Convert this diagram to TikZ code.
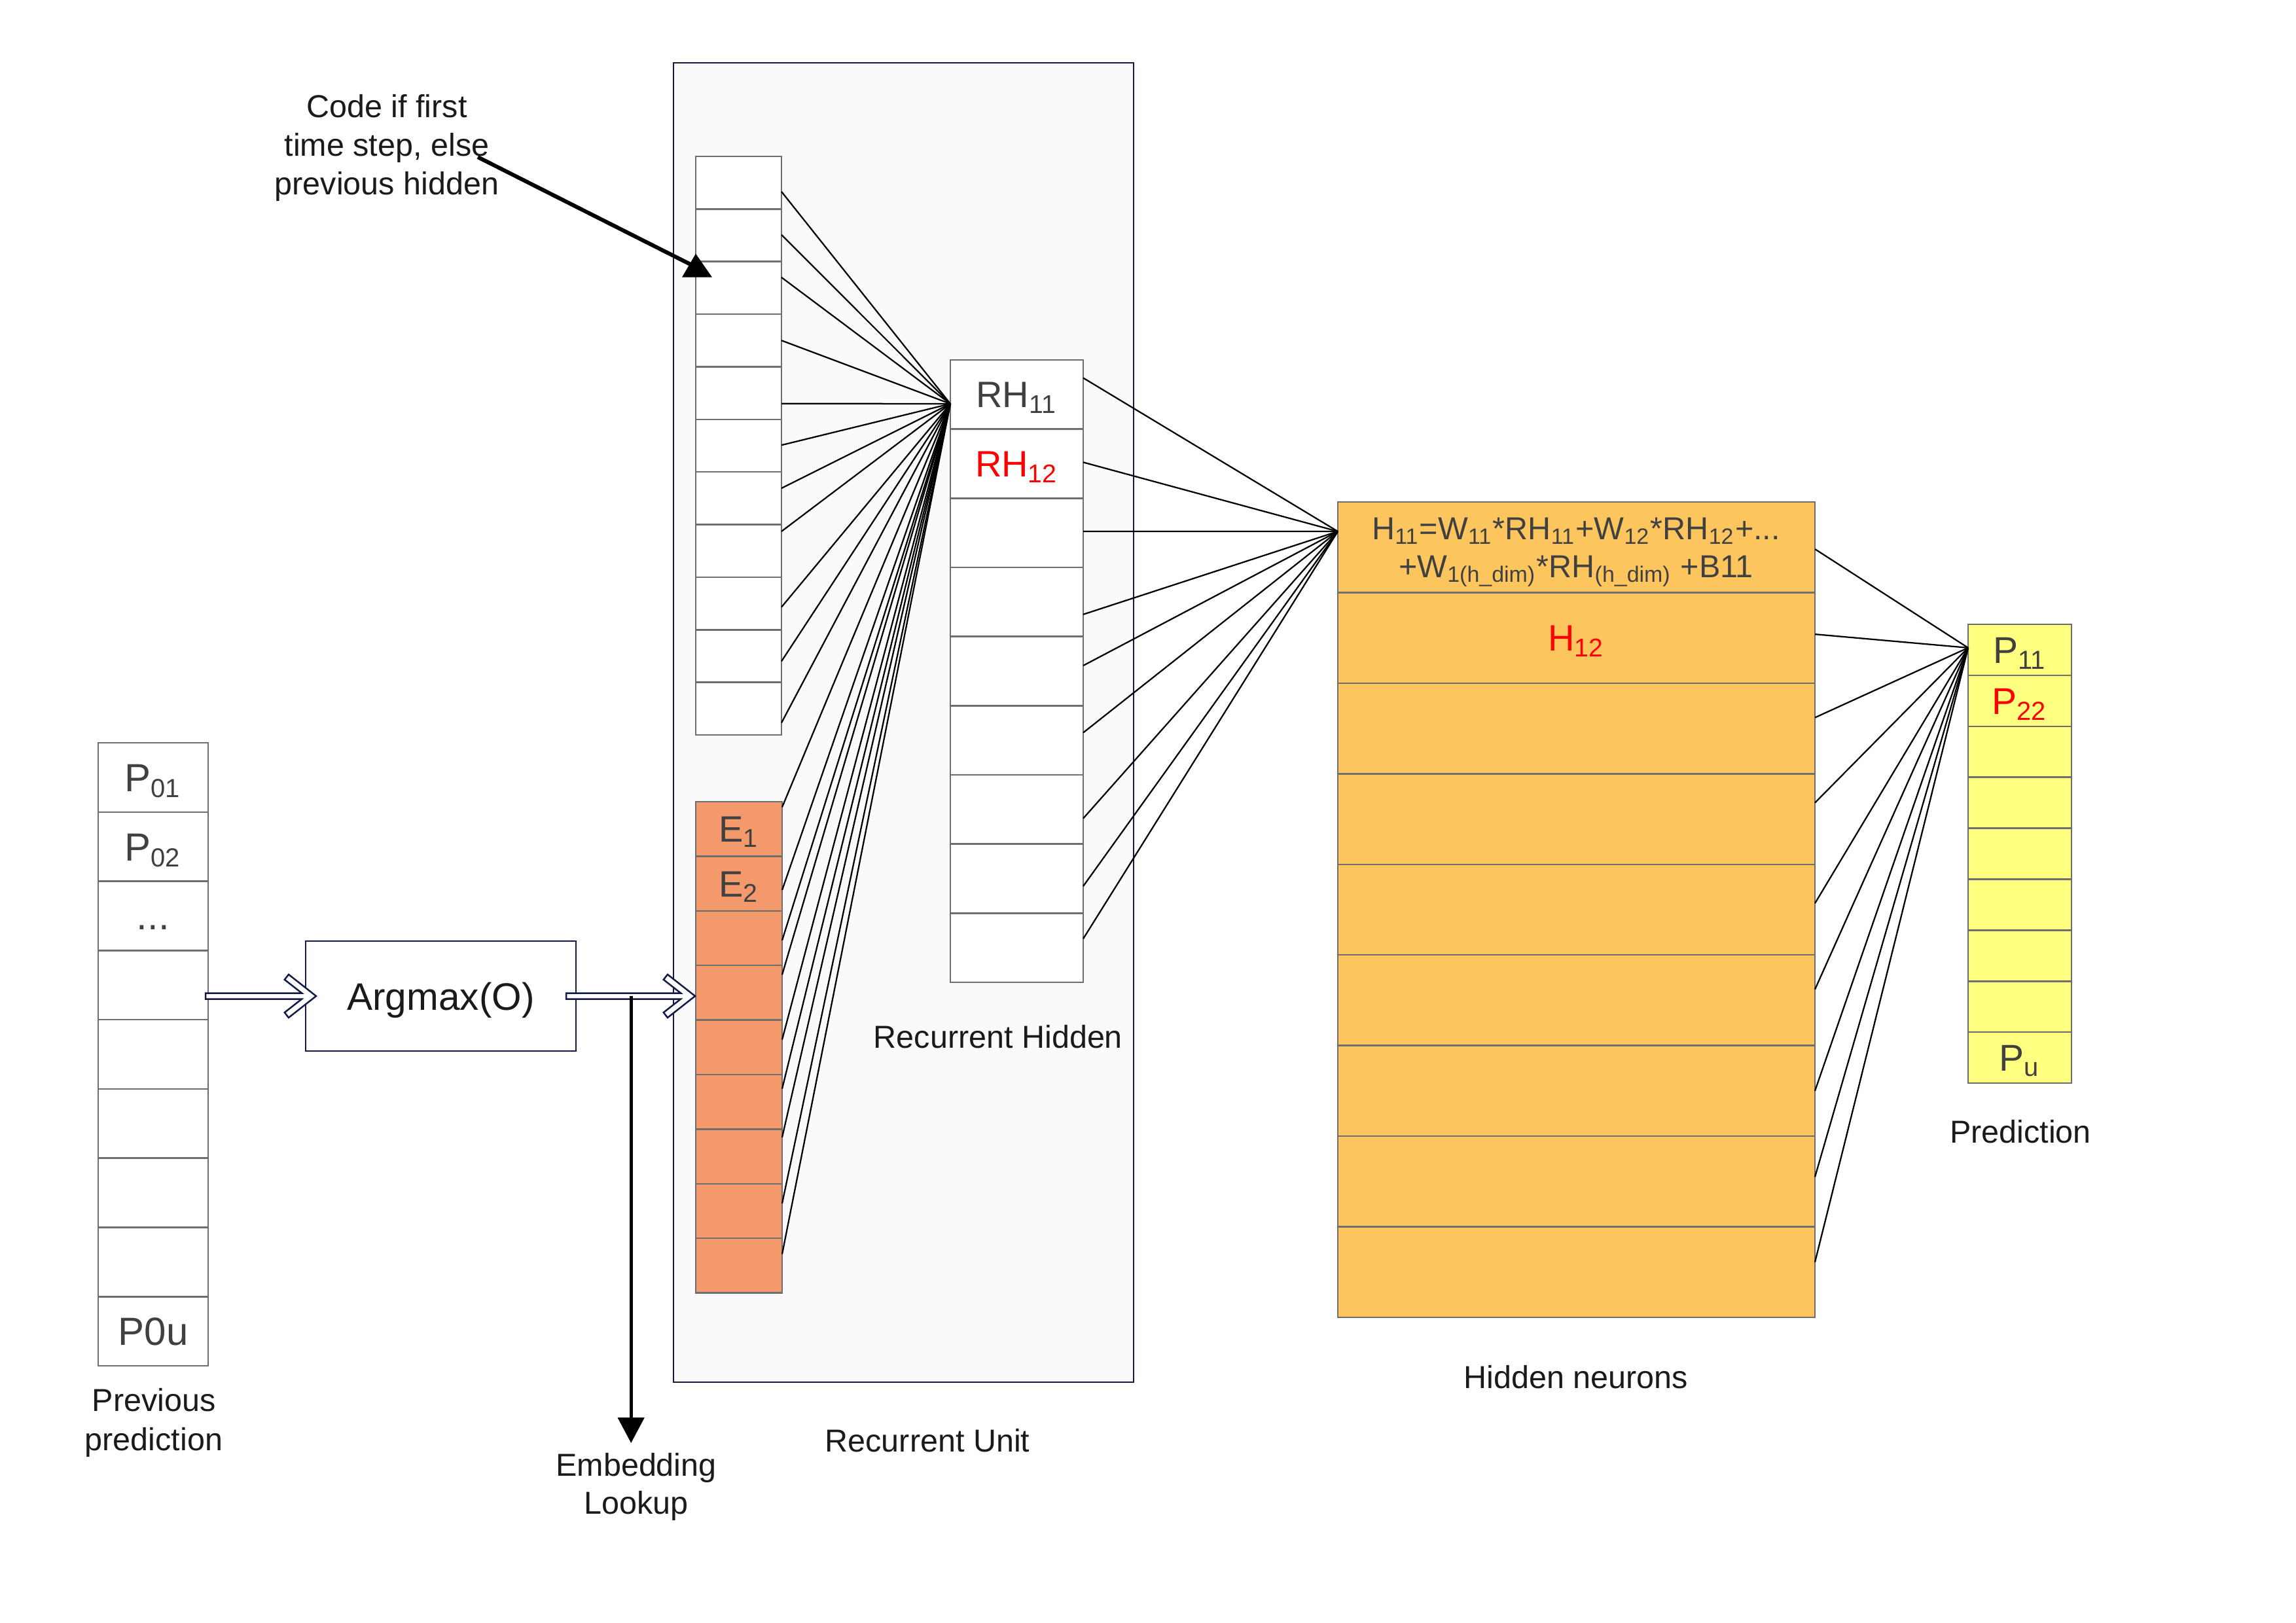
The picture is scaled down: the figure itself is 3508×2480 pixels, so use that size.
\documentclass[tikz,border=0pt]{standalone}
\usepackage{fontspec}
\setmainfont{Liberation Sans}
\usetikzlibrary{calc,arrows.meta}
\definecolor{navy}{RGB}{20,26,70}
\definecolor{boxfill}{RGB}{250,250,250}
\definecolor{cellgray}{RGB}{110,110,110}
\definecolor{embfill}{RGB}{243,153,108}
\definecolor{hidfill}{RGB}{253,197,94}
\definecolor{predfill}{RGB}{255,255,128}
\definecolor{txtgray}{RGB}{64,64,64}
\definecolor{labcol}{RGB}{26,26,26}
\definecolor{hired}{RGB}{255,0,0}
\newcommand\myfs[1]{\fontsize{#1}{#1}\selectfont}
% hollow (double-outline) arrow from coordinate #1 to tip #2, both at the same height
\newcommand\myhollow[2]{%
  \draw[hollowarrow] ($(#1)+(0,-4.5)$) -- ($(#2)+(-21.9,-4.5)$) -- ($(#2)+(-48.2,-25.1)$)
    -- ($(#2)+(-42,-33)$) -- (#2) -- ($(#2)+(-42,33)$) -- ($(#2)+(-48.2,25.1)$)
    -- ($(#2)+(-21.9,4.5)$) -- ($(#1)+(0,4.5)$) -- cycle;}
\begin{document}
\begin{tikzpicture}[x=0.2pt,y=-0.2pt,
 cellbase/.style={draw=cellgray,line width=0.5pt,inner sep=0pt,outer sep=0pt,anchor=north west},
 ucell/.style={cellbase,fill=white,minimum width=26.2pt,minimum height=16.07pt},
 ecell/.style={cellbase,fill=embfill,minimum width=26.4pt,minimum height=16.68pt},
 rcell/.style={cellbase,fill=white,minimum width=40.6pt,minimum height=21.13pt},
 hcell/.style={cellbase,fill=hidfill,minimum width=145.8pt,minimum height=27.69pt},
 pcell/.style={cellbase,fill=predfill,minimum width=31.6pt,minimum height=15.58pt},
 qcell/.style={cellbase,fill=white,minimum width=33.6pt,minimum height=21.16pt},
 celltxt/.style={inner sep=0pt,outer sep=0pt,text depth=0pt,text=txtgray},
 fan/.style={draw=black,line width=0.45pt},
 lab/.style={anchor=base,inner sep=0pt,text=labcol,font=\myfs{9.7}},
 hollowarrow/.style={draw=navy,line width=0.5pt,fill=white,line join=miter},
 ]
\useasboundingbox (0,0) rectangle (3508,2480);
\fill[white] (0,0) rectangle (3508,2480);

% recurrent unit box
\node[draw=navy,fill=boxfill,line width=0.5pt,inner sep=0pt,outer sep=0pt,anchor=north west,
  minimum width=140.6pt,minimum height=403.2pt] (ru) at (1029,96) {};

% columns
\foreach \i in {1,...,11} \node[ucell] (u\i) at (1063,{239+(\i-1)*80.36}) {};
\foreach \i in {1,...,9} \node[ecell] (e\i) at (1063,{1225+(\i-1)*83.39}) {};
\foreach \i in {1,...,9} \node[rcell] (r\i) at (1452,{550+(\i-1)*105.67}) {};
\foreach \i in {1,...,9} \node[hcell] (h\i) at (2044,{767+(\i-1)*138.44}) {};
\foreach \i in {1,...,9} \node[pcell] (p\i) at (3007,{954+(\i-1)*77.89}) {};
\foreach \i in {1,...,9} \node[qcell] (q\i) at (150,{1135+(\i-1)*105.78}) {};

% convergence points
\coordinate (rconv) at ($(r1.north west)!0.634!(r1.south west)$);
\coordinate (hconv) at ($(h1.north west)!0.325!(h1.south west)$);
\coordinate (pconv) at ($(p1.north west)!0.46!(p1.south west)$);

% fans
\foreach \i/\f in {1/0.67,2/0.49,3/0.30,4/0.50,5/0.70,6/0.49,7/0.31,8/0.13,9/0.57,10/0.60,11/0.77}
  \draw[fan] ($(u\i.north east)!\f!(u\i.south east)$) -- (rconv);
\foreach \i/\f in {1/0.10,2/0.62,3/0.54,4/0.17,5/0.36,6/0.26,7/0.15,8/0.36,9/0.29}
  \draw[fan] ($(e\i.north east)!\f!(e\i.south east)$) -- (rconv);
\foreach \i/\f in {1/0.26,2/0.48,3/0.48,4/0.68,5/0.42,6/0.39,7/0.63,8/0.61,9/0.37}
  \draw[fan] ($(r\i.north east)!\f!(r\i.south east)$) -- (hconv);
\foreach \i/\f in {1/0.52,2/0.46,3/0.38,4/0.32,5/0.43,6/0.38,7/0.50,8/0.45,9/0.39}
  \draw[fan] ($(h\i.north east)!\f!(h\i.south east)$) -- (pconv);

% cell texts
\node[celltxt,font=\myfs{11.2},text height=8pt] (e1t) at (e1.center) {E\textsubscript{1}};
\node[celltxt,font=\myfs{11.2},text height=8pt] (e2t) at (e2.center) {E\textsubscript{2}};
\node[celltxt,font=\myfs{11.2},text height=8pt] (r1t) at (r1.center) {RH\textsubscript{11}};
\node[celltxt,font=\myfs{11.2},text height=8pt,text=hired] (r2t) at (r2.center) {RH\textsubscript{12}};
\node[celltxt,font=\myfs{11.2},text height=8pt,text=hired] (h2t) at (h2.center) {H\textsubscript{12}};
\node[celltxt,font=\myfs{11.4},text height=8.2pt] (p1t) at (p1.center) {P\textsubscript{11}};
\node[celltxt,font=\myfs{11.4},text height=8.2pt,text=hired] (p2t) at (p2.center) {P\textsubscript{22}};
\node[celltxt,font=\myfs{11.4},text height=8.2pt] (p9t) at (p9.center) {P\textsubscript{u}};
\node[celltxt,font=\myfs{12},text height=8.6pt] (q1t) at (q1.center) {P\textsubscript{01}};
\node[celltxt,font=\myfs{12},text height=8.6pt] (q2t) at (q2.center) {P\textsubscript{02}};
\node[celltxt,font=\myfs{12},text height=8.6pt] (q3t) at (q3.center) {...};
\node[celltxt,font=\myfs{12},text height=8.6pt] (q9t) at (q9.center) {P0u};

% formula in first hidden cell
\node[anchor=base,inner sep=0pt,text=txtgray,font=\myfs{9.7}] (f1) at (2408,824)
  {H\textsubscript{11}=W\textsubscript{11}*RH\textsubscript{11}+W\textsubscript{12}*RH\textsubscript{12}+...};
\node[anchor=base,inner sep=0pt,text=txtgray,font=\myfs{9.7}] (f2) at (2408,882)
  {+W\textsubscript{1(h\_dim)}*RH\textsubscript{(h\_dim)} +B11};

% argmax
\node[draw=navy,fill=white,line width=0.5pt,inner sep=0pt,outer sep=0pt,minimum width=82.6pt,
  minimum height=33.6pt] (argmax) at (673.5,1522) {};
\node[anchor=base,inner sep=0pt,text=labcol,font=\myfs{11.7}] (argt) at (673.5,1543) {Argmax(O)};

% labels
\node[lab] (cl1) at (591,179) {Code if first};
\node[lab] (cl2) at (591,238) {time step, else};
\node[lab] (cl3) at (591,297) {previous hidden};
\node[lab] (rhl) at (1525,1601) {Recurrent Hidden};
\node[lab] (rul) at (1417,2218) {Recurrent Unit};
\node[lab] (hnl) at (2408,2121) {Hidden neurons};
\node[lab] (prl) at (3087,1746) {Prediction};
\node[lab] (el1) at (972,2255) {Embedding};
\node[lab] (el2) at (972,2313) {Lookup};
\node[lab] (pp1) at (235,2156) {Previous};
\node[lab] (pp2) at (235,2216) {prediction};

% hollow arrows
\coordinate (a1s) at ($(q4.east |- argmax.west)+(-4,0)$);
\coordinate (a1t) at ($(argmax.west)+(16,0)$);
\coordinate (a2s) at ($(argmax.east)+(-15,0)$);
\coordinate (a2t) at ($(e4.west |- argmax.east)+(-1,0)$);
\myhollow{a1s}{a1t}
\myhollow{a2s}{a2t}

% embedding lookup arrow
\coordinate (lk) at ($(argmax.east)!0.46!(e4.west |- argmax.east)$);
\coordinate (lkend) at ($(lk)+(0,683)$);
\draw[line width=1pt,-{Triangle[length=7.8pt,width=8pt]}] (lk) -- (lkend);

% code arrow
\coordinate (cstart) at (730,240);
\coordinate (ctip) at (1059,406);
\draw[line width=1.2pt] (cstart) -- (ctip);
\fill[black] ($(u3.north west)+(0,-12)$) -- ++(25,36) -- ++(-46,0) -- cycle;
\end{tikzpicture}
\end{document}
